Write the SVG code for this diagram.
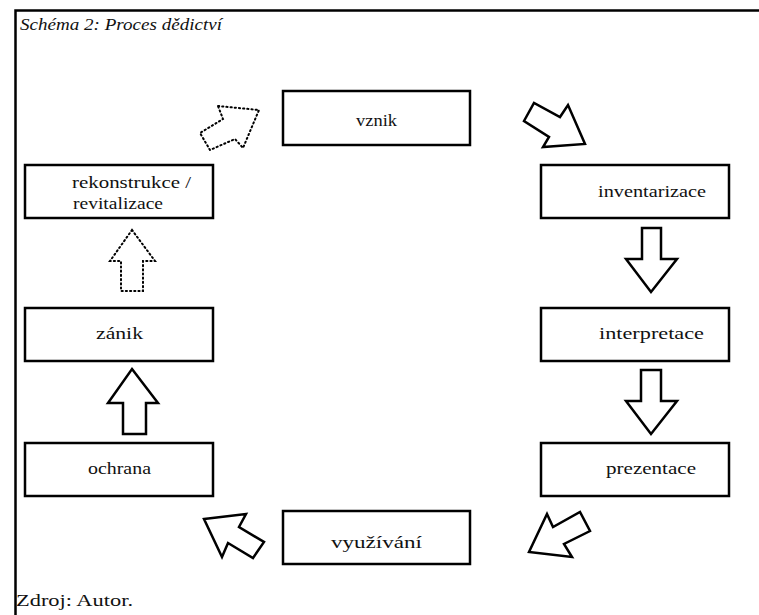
<svg xmlns="http://www.w3.org/2000/svg" width="759" height="615" viewBox="0 0 759 615">
<style>
.box{fill:#fff;stroke:#000;stroke-width:2.5}
.lbl{font-family:"Liberation Serif","Times New Roman",serif;font-size:17px;fill:#111}
.arr{fill:#fff;stroke:#000;stroke-width:2.5;stroke-linejoin:miter}
.dot{fill:none;stroke:#000;stroke-width:2;stroke-dasharray:1.2 3;stroke-linecap:round}
</style>
<rect width="759" height="615" fill="#fff"/>
<path d="M15.5 615 V10.5 H759" fill="none" stroke="#000" stroke-width="2.5"/>
<text class="lbl" x="20" y="30" font-style="italic" font-size="18" textLength="202" lengthAdjust="spacingAndGlyphs">Schéma 2: Proces dědictví</text>
<text class="lbl" x="16" y="606" font-size="18" textLength="117" lengthAdjust="spacingAndGlyphs">Zdroj: Autor.</text>
<g id="vznik"><rect class="box" x="283" y="91" width="187" height="54"/><text class="lbl" x="356" y="126" textLength="41" lengthAdjust="spacingAndGlyphs">vznik</text></g>
<g id="inventarizace"><rect class="box" x="541" y="165" width="188" height="53"/><text class="lbl" x="598" y="197" textLength="108" lengthAdjust="spacingAndGlyphs">inventarizace</text></g>
<g id="interpretace"><rect class="box" x="541" y="308" width="188" height="53"/><text class="lbl" x="599" y="339" textLength="105" lengthAdjust="spacingAndGlyphs">interpretace</text></g>
<g id="prezentace"><rect class="box" x="541" y="443" width="188" height="53"/><text class="lbl" x="606" y="474" textLength="90" lengthAdjust="spacingAndGlyphs">prezentace</text></g>
<g id="vyuzivani"><rect class="box" x="283" y="511" width="187" height="53"/><text class="lbl" x="331" y="548" textLength="91" lengthAdjust="spacingAndGlyphs">využívání</text></g>
<g id="ochrana"><rect class="box" x="25" y="443" width="188" height="53"/><text class="lbl" x="88" y="474" textLength="63" lengthAdjust="spacingAndGlyphs">ochrana</text></g>
<g id="zanik"><rect class="box" x="25" y="308" width="188" height="53"/><text class="lbl" x="96" y="339" textLength="47" lengthAdjust="spacingAndGlyphs">zánik</text></g>
<g id="rekonstrukce"><rect class="box" x="25" y="165" width="188" height="53"/><text class="lbl" x="72" y="188" textLength="119" lengthAdjust="spacingAndGlyphs">rekonstrukce /</text><text class="lbl" x="73" y="209" textLength="90" lengthAdjust="spacingAndGlyphs">revitalizace</text></g>
<g id="connectors">
<polygon class="arr" points="524,121 534,103 560,117 568,105 585,144 543,147 549,137"/>
<polygon class="arr" points="642,228 661,228 661,259 677,259 651,292 626,259 642,259"/>
<polygon class="arr" points="641,370 661,370 661,401 677,401 651,434 626,401 641,401"/>
<polygon class="arr" points="547,514 553,527 580,512 590,531 564,544 572,557 529,552"/>
<polygon class="arr" points="204,519 246,514 239,527 264,542 253,558 228,543 222,557"/>
<polygon class="arr" points="132,369 158,403 146,403 146,434 123,434 123,403 108,403"/>
<polygon class="dot" points="132,230 155,261 143,261 143,291 121,291 121,261 110,261"/>
<polygon class="dot" points="218,106 259,110 243,148 235,139 210,150 200,133 223,119"/>
</g>
</svg>
